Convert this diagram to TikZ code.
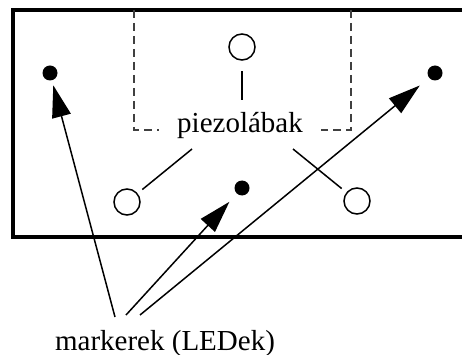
\documentclass[tikz,border=0pt]{standalone}
\usepackage{fontspec}
\setmainfont{Liberation Serif}
\usetikzlibrary{arrows.meta}
\tikzset{
    legCircle/.style={
        circle,
        draw,
        line width=1.5pt,
        minimum size=26pt,
        inner sep=0pt
    },
    ledDot/.style={
        circle,
        fill=black,
        minimum size=15pt,
        inner sep=0pt
    },
    % Lines
    frameLine/.style={line width=4pt},
    dashLine/.style={line width=1.2pt, draw=black!75, dash pattern=on 8pt off 5pt}
}

\begin{document}
\begin{tikzpicture}[
    x=1pt, y=-1pt,
    txt/.style={font=\fontsize{29}{34}\selectfont, inner sep=0pt},
    lead/.style={line width=1.5pt},
    arrow/.style={-{Triangle[length=32pt,width=19pt]}, line width=1.5pt}
]
    \useasboundingbox (0,0) rectangle (462,355);
    \clip (0,0) rectangle (462,355);

    % frame (right side runs off the picture)
    \draw[frameLine] (13,10) rectangle (490,237);

    % piezo legs
    \node[legCircle] (legT) at (242,47) {};
    \node[legCircle] (legL) at (127,202) {};
    \node[legCircle] (legR) at (357,201) {};
    \node[txt, anchor=base, inner xsep=18pt] (legs) at (240,133) {piezolábak};

    \coordinate (dashL) at (134,130);
    \coordinate (dashR) at (351,130);
    \draw[dashLine] (134,10) -- (dashL) -- (dashL -| legs.west);
    \draw[dashLine] (351,10) -- (dashR) -- (dashR -| legs.east);

    \coordinate (legsT) at (242,100);
    \coordinate (legsL) at (192,149);
    \coordinate (legsR) at (293,149);
    \draw[lead, shorten >=10pt] (legsT) -- (legT);
    \draw[lead, shorten >=6pt] (legsL) -- (legL);
    \draw[lead, shorten >=6pt] (legsR) -- (legR);

    % markers
    \node[ledDot] (ledL) at (50,73) {};
    \node[ledDot] (ledM) at (242,188) {};
    \node[ledDot] (ledR) at (435,73) {};
    \node[txt, anchor=base] (markers) at (165,350) {markerek (LEDek)};

    \coordinate (mkA) at (115,317);
    \coordinate (mkB) at (126,315);
    \coordinate (mkC) at (140,315);
    \draw[arrow, shorten >=5pt] (mkA) -- (ledL);
    \draw[arrow, shorten >=11pt] (mkB) -- (ledM);
    \draw[arrow, shorten >=12pt] (mkC) -- (ledR);
\end{tikzpicture}
\end{document}
